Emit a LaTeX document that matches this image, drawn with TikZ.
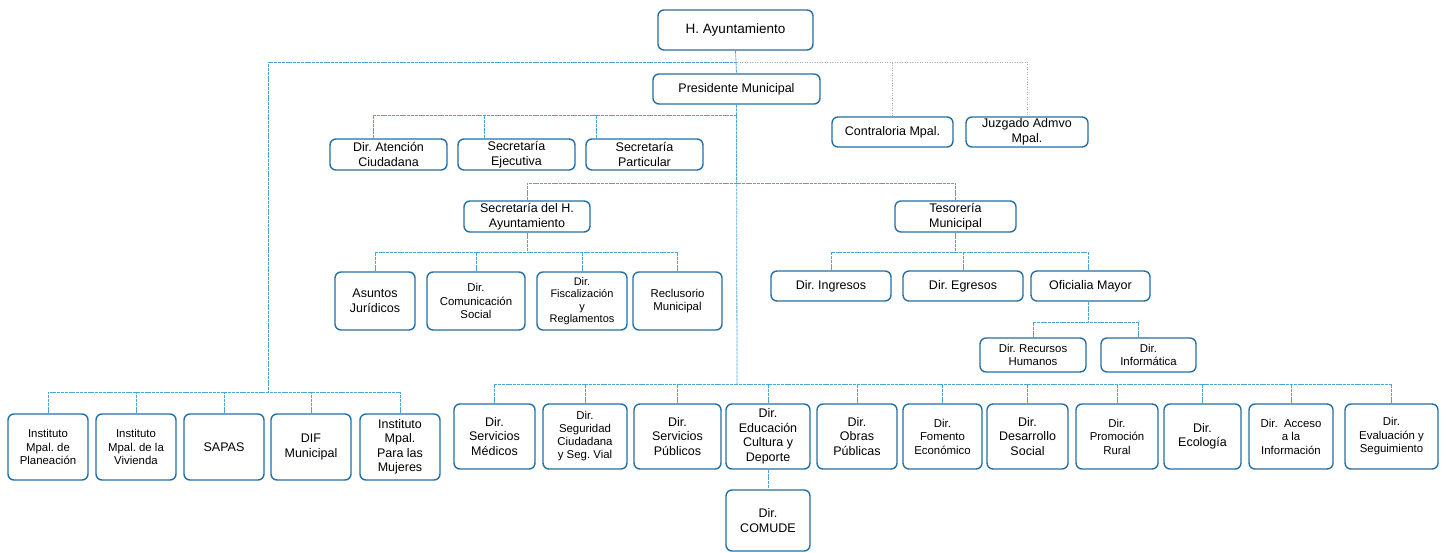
\documentclass[tikz,border=0pt]{standalone}
\usepackage{fontspec}
\setmainfont{Liberation Sans}
\frenchspacing
\definecolor{boxblue}{HTML}{246FA5}
\definecolor{linecyan}{HTML}{4AA6D6}
\definecolor{dotgray}{HTML}{A0AEBE}
\tikzset{
  box/.style={draw=boxblue, line width=1.4pt, rounded corners=6pt, fill=white, align=center, inner sep=1pt, text=black},
  med/.style={font=\fontsize{12.5}{14.5}\selectfont},
  sml/.style={font=\fontsize{11.4}{13.5}\selectfont},
  conn/.style={draw=linecyan, line width=0.8pt, dash pattern=on 3pt off 0.8pt},
  dotline/.style={draw=dotgray, line width=0.8pt, dash pattern=on 1pt off 1.5pt}
}
\begin{document}
\begin{tikzpicture}[x=1pt,y=-1pt]
\useasboundingbox (0,0) rectangle (1447,553);
% junctions
\coordinate (jT) at (737,62);
\coordinate (jP) at (737,115);
\coordinate (jS) at (737,183);
\coordinate (jB) at (737,384);
\coordinate (jL) at (268,392);
\coordinate (jSec) at (527,252);
\coordinate (jTes) at (955.5,252);
\coordinate (jO) at (1088,322);

% top
\node[box, font=\fontsize{13.5}{15}\selectfont, minimum width=155, minimum height=40] (ayu) at (735.5,30) {H. Ayuntamiento};
\node[box, med, minimum width=167, minimum height=30] (pres) at (736.5,89) {Presidente Municipal};
\node[box, med, minimum width=117, minimum height=31] (aten) at (388.5,154.5) {Dir. Atención\\Ciudadana};
\node[box, med, minimum width=117, minimum height=31] (ejec) at (516.5,154.5) {Secretaría\\Ejecutiva};
\node[box, med, minimum width=117, minimum height=31] (part) at (644.5,154.5) {Secretaría\\Particular};
\node[box, med, minimum width=121, minimum height=30] (contr) at (892.5,132) {Contraloria Mpal.};
\node[box, med, minimum width=122, minimum height=30] (juzg) at (1027,132) {Juzgado Admvo\\Mpal.};

\node[box, med, minimum width=126, minimum height=31] (sec) at (527,216.5) {Secretaría del H.\\Ayuntamiento};
\node[box, med, minimum width=121, minimum height=31] (teso) at (955.5,216.5) {Tesorería\\Municipal};

\node[box, med, minimum width=80, minimum height=58] (asun) at (375,301) {Asuntos\\Jurídicos};
\node[box, sml, minimum width=98, minimum height=58] (comu) at (476,301) {Dir.\\Comunicación\\Social};
\node[box, font=\fontsize{11}{12.5}\selectfont, minimum width=90, minimum height=58] (fisc) at (582,301) {Dir.\\Fiscalización\\y\\Reglamentos};
\node[box, sml, minimum width=89, minimum height=58] (recl) at (677.5,301) {Reclusorio\\Municipal};

\node[box, med, minimum width=120, minimum height=30] (ingr) at (831,286) {Dir. Ingresos};
\node[box, med, minimum width=120, minimum height=30] (egre) at (963,286) {Dir. Egresos};
\node[box, med, minimum width=119, minimum height=30] (ofic) at (1090.5,286) {Oficialia Mayor};
\node[box, sml, minimum width=106, minimum height=34] (rrhh) at (1033,355) {Dir. Recursos\\Humanos};
\node[box, sml, minimum width=95, minimum height=34] (info) at (1148.5,355) {Dir.\\Informática};

% bottom left
\node[box, sml, minimum width=80, minimum height=66] (plan) at (48,447) {Instituto\\Mpal. de\\Planeación};
\node[box, sml, minimum width=80, minimum height=66] (viv) at (136,447) {Instituto\\Mpal. de la\\Vivienda};
\node[box, med, minimum width=80, minimum height=66] (sapas) at (224,447) {SAPAS};
\node[box, med, minimum width=80, minimum height=66] (dif) at (311,447) {DIF\\Municipal};
\node[box, med, minimum width=80, minimum height=66] (muj) at (400,447) {Instituto\\Mpal.\\Para las\\Mujeres};

% bottom right
\node[box, med, minimum width=81, minimum height=65] (medi) at (494.5,436.5) {Dir.\\Servicios\\Médicos};
\node[box, font=\fontsize{11.4}{13}\selectfont, minimum width=84, minimum height=65] (segu) at (585,436.5) {Dir.\\Seguridad\\Ciudadana\\y Seg. Vial};
\node[box, med, minimum width=87, minimum height=65] (publ) at (677.5,436.5) {Dir.\\Servicios\\Públicos};
\node[box, med, minimum width=84, minimum height=65] (educ) at (768,436.5) {Dir.\\Educación\\Cultura y\\Deporte};
\node[box, med, minimum width=80, minimum height=65] (obra) at (857,436.5) {Dir.\\Obras\\Públicas};
\node[box, sml, minimum width=79, minimum height=65] (fome) at (942.5,436.5) {Dir.\\Fomento\\Económico};
\node[box, med, minimum width=81, minimum height=65] (desa) at (1027.5,436.5) {Dir.\\Desarrollo\\Social};
\node[box, sml, minimum width=82, minimum height=65] (prom) at (1117,436.5) {Dir.\\Promoción\\Rural};
\node[box, med, minimum width=77, minimum height=65] (ecol) at (1202.5,436.5) {Dir.\\Ecología};
\node[box, sml, minimum width=84, minimum height=65] (acce) at (1291,436.5) {Dir.~ Acceso\\a la\\Información};
\node[box, sml, minimum width=93, minimum height=65] (eval) at (1391.5,436.5) {Dir.\\Evaluación y\\Seguimiento};
\node[box, med, minimum width=84, minimum height=61] (comu2) at (768,520.5) {Dir.\\COMUDE};

% connectors
\draw[conn] (ayu.south) -- (pres.north);
\draw[conn] (pres.south) -- (jB);
\draw[conn] (jT) -| (jL);
\draw[dotline] (jT) -| (juzg.north);
\draw[dotline] (contr.north) -- (contr.north |- jT);

\draw[conn] ([xshift=-15pt]aten.north) |- (jP);
\draw[conn] ([xshift=-32pt]ejec.north) -- ([xshift=-32pt]ejec.north |- jP);
\draw[conn] ([xshift=-48pt]part.north) -- ([xshift=-48pt]part.north |- jP);

\draw[conn] (sec.north) |- (jS);
\draw[conn] (teso.north) |- (jS);

\draw[conn] (sec.south) -- (jSec);
\draw[conn] (asun.north) |- (jSec);
\draw[conn] (comu.north) -- (comu.north |- jSec);
\draw[conn] (fisc.north) -- (fisc.north |- jSec);
\draw[conn] (recl.north) |- (jSec);

\draw[conn] (teso.south) -- (jTes);
\draw[conn] (ingr.north) |- (jTes);
\draw[conn] (egre.north) -- (egre.north |- jTes);
\draw[conn] ([xshift=-2.5pt]ofic.north) |- (jTes);

\draw[conn] ([xshift=-2.5pt]ofic.south) -- (jO);
\draw[conn] (rrhh.north) |- (jO);
\draw[conn] ([xshift=-10pt]info.north) |- (jO);

\draw[conn] (plan.north) |- (jL);
\draw[conn] (viv.north) -- (viv.north |- jL);
\draw[conn] (sapas.north) -- (sapas.north |- jL);
\draw[conn] (dif.north) -- (dif.north |- jL);
\draw[conn] (muj.north) |- (jL);

\draw[conn] (medi.north) |- (jB);
\draw[conn] (segu.north) -- (segu.north |- jB);
\draw[conn] (publ.north) -- (publ.north |- jB);
\draw[conn] (educ.north) -- (educ.north |- jB);
\draw[conn] (obra.north) -- (obra.north |- jB);
\draw[conn] (fome.north) -- (fome.north |- jB);
\draw[conn] (desa.north) -- (desa.north |- jB);
\draw[conn] (prom.north) -- (prom.north |- jB);
\draw[conn] (ecol.north) -- (ecol.north |- jB);
\draw[conn] (acce.north) -- (acce.north |- jB);
\draw[conn] (eval.north) |- (jB);
\draw[conn] (educ.south) -- (comu2.north);
\end{tikzpicture}
\end{document}
